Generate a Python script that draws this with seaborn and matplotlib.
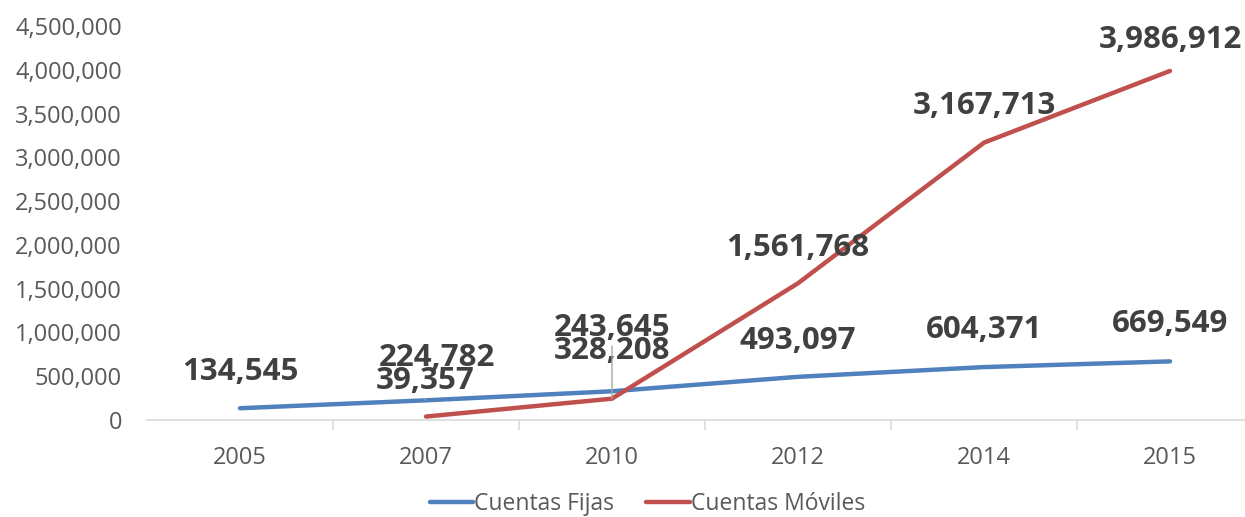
import pandas as pd
import numpy as np
import matplotlib
matplotlib.use("Agg")
import matplotlib.pyplot as plt
import seaborn as sns
from matplotlib.ticker import FuncFormatter, FixedLocator

# Data
years = ["2005", "2007", "2010", "2012", "2014", "2015"]
fijas = [134545, 224782, 328208, 493097, 604371, 669549]
moviles = [np.nan, 39357, 243645, 1561768, 3167713, 3986912]
series_names = ["Cuentas Fijas", "Cuentas Móviles"]
colors = ["#4F81BD", "#C0504D"]

# label offsets (pixels, y up) for data labels, per series
fijas_offsets = [(0, 36), (11, 42), (0, 40), (0, 36), (0, 37), (0, 37)]
moviles_offsets = [None, (-1, 36), (0, 71), (0, 35), (0, 37), (0, 31)]

df = pd.DataFrame({
    "year": years * 2,
    "value": fijas + moviles,
    "serie": [series_names[0]] * len(years) + [series_names[1]] * len(years),
})

sns.set_theme(style="white")
plt.rcParams["font.family"] = ["Open Sans", "DejaVu Sans"]

fig = plt.figure(figsize=(12.45, 5.17), dpi=100)
ax = fig.add_axes([147 / 1245, 97 / 517, 1116 / 1245, 394 / 517])

sns.lineplot(data=df, x="year", y="value", hue="serie", palette=colors,
             linewidth=3.2, ax=ax, sort=False, legend=True)

ax.set_xlim(-0.5, len(years) - 0.5)
ax.set_ylim(0, 4500000)
ax.set_yticks(np.arange(0, 4500001, 500000))
ax.yaxis.set_major_formatter(FuncFormatter(lambda v, p: f"{int(v):,}"))
ax.set_xlabel("")
ax.set_ylabel("")

for s in ["top", "right", "left"]:
    ax.spines[s].set_visible(False)
ax.spines["bottom"].set_color("#D9D9D9")
ax.spines["bottom"].set_linewidth(1.2)

ax.tick_params(axis="y", length=0, pad=18, labelsize=17, labelcolor="#595959")
ax.tick_params(axis="x", which="major", length=0, pad=19, labelsize=17, labelcolor="#595959")
ax.xaxis.set_minor_locator(FixedLocator(np.arange(0.5, len(years) - 1, 1.0)))
ax.tick_params(axis="x", which="minor", length=7, width=1.2, color="#D9D9D9", bottom=True)
ax.grid(False)

label_kw = dict(textcoords="offset pixels", ha="center", va="center",
                fontsize=22.5, fontweight="bold", color="#404040")

for i, v in enumerate(fijas):
    ax.annotate(f"{v:,}", xy=(i, v), xytext=fijas_offsets[i], **label_kw)

for i, v in enumerate(moviles):
    if np.isnan(v):
        continue
    kw = dict(label_kw)
    if years[i] in ("2007", "2010"):
        kw["arrowprops"] = dict(arrowstyle="-", color="#A6A6A6", lw=1.0,
                                shrinkA=0, shrinkB=12 if years[i] == "2007" else 0)
    ax.annotate(f"{v:,}", xy=(i, v), xytext=moviles_offsets[i], **kw)

ax.legend_.remove()
handles, labels = ax.get_legend_handles_labels()
fig.legend(handles, labels, loc="center", bbox_to_anchor=(0.52, 0.025), ncol=2,
           frameon=False, fontsize=16.5, handlelength=1.9, handletextpad=0.05,
           columnspacing=1.4, labelcolor="#595959")

fig.savefig("out.png", dpi=100)
